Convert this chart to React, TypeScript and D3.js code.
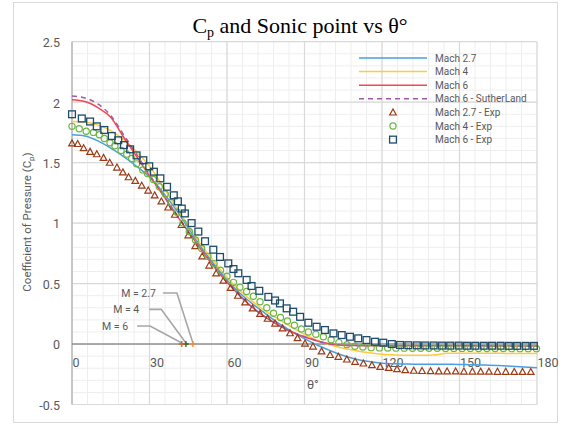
import React from "react";
import * as d3 from "d3";

// ---------- data ----------
const thetaModel = [0, 5, 10, 15, 20, 25, 30, 35, 40, 45, 50, 55, 60, 65, 70, 75, 80, 85, 90, 95, 100, 105, 110, 115, 120, 125, 130, 135, 140, 145, 150, 155, 160, 165, 170, 175, 180];
const cpMach27 = [1.73, 1.72, 1.68, 1.62, 1.55, 1.47, 1.38, 1.26, 1.12, 0.96, 0.8, 0.66, 0.53, 0.42, 0.33, 0.25, 0.17, 0.105, 0.045, -0.01, -0.055, -0.095, -0.125, -0.145, -0.158, -0.163, -0.166, -0.167, -0.168, -0.168, -0.169, -0.171, -0.174, -0.178, -0.184, -0.19, -0.197];
const cpMach4 = [1.84, 1.835, 1.81, 1.765, 1.69, 1.59, 1.47, 1.31, 1.14, 0.98, 0.82, 0.68, 0.55, 0.44, 0.35, 0.27, 0.205, 0.14, 0.08, 0.03, -0.008, -0.035, -0.055, -0.072, -0.085, -0.09, -0.092, -0.092, -0.091, -0.077, -0.077, -0.077, -0.077, -0.077, -0.078, -0.078, -0.078];
const cpMach6 = [2.02, 2.005, 1.955, 1.875, 1.71, 1.55, 1.39, 1.24, 1.08, 0.93, 0.78, 0.64, 0.51, 0.4, 0.3, 0.22, 0.155, 0.1, 0.06, 0.025, 0.0, -0.01, -0.013, -0.014, -0.014, -0.014, -0.014, -0.015, -0.015, -0.015, -0.015, -0.015, -0.015, -0.016, -0.016, -0.016, -0.016];
const cpMach6Suth = [2.05, 2.035, 1.985, 1.89, 1.73, 1.57, 1.4, 1.245, 1.085, 0.935, 0.785, 0.645, 0.515, 0.4, 0.3, 0.22, 0.155, 0.1, 0.06, 0.025, 0.0, -0.01, -0.013, -0.014, -0.014, -0.014, -0.014, -0.015, -0.015, -0.015, -0.015, -0.015, -0.015, -0.016, -0.016, -0.016, -0.016];

const thetaExp27 = [0, 2.2, 4.5, 7, 9.6, 12.2, 14.6, 17.4, 19.7, 21.9, 24.5, 27, 29.5, 32, 34.6, 37.2, 39.8, 42.4, 45, 47.7, 50.4, 53.1, 55.8, 58.6, 61.4, 64.2, 67, 69.9, 72.8, 75.7, 78.6, 81.5, 84.4, 87.3, 90.2, 93.3, 96.6, 99.9, 103.1, 106.4, 109.6, 112.8, 116.1, 119.3, 122.6, 125.8, 129, 132.3, 135.5, 138.8, 142, 145.2, 148.5, 151.7, 155, 158.2, 161.4, 164.7, 167.9, 171.2, 174.4, 177.6];
const cpExp27 = [1.66, 1.655, 1.62, 1.59, 1.57, 1.54, 1.5, 1.46, 1.42, 1.38, 1.35, 1.31, 1.27, 1.23, 1.18, 1.13, 1.07, 0.985, 0.9, 0.81, 0.725, 0.65, 0.585, 0.525, 0.465, 0.4, 0.345, 0.295, 0.25, 0.21, 0.17, 0.13, 0.09, 0.05, 0.005, -0.02, -0.06, -0.09, -0.105, -0.127, -0.146, -0.16, -0.174, -0.188, -0.196, -0.207, -0.215, -0.22, -0.222, -0.224, -0.225, -0.226, -0.226, -0.227, -0.227, -0.228, -0.228, -0.229, -0.229, -0.23, -0.23, -0.23];

const thetaExp4 = [0, 2.8, 5.5, 8.3, 10.6, 12.5, 14.7, 16.6, 19, 21.2, 23.1, 25, 27.4, 29.2, 31.5, 33.8, 36.1, 38.4, 40.7, 43, 45.4, 47.8, 50.2, 52.6, 55, 57.5, 60, 62.5, 65, 67.6, 70.2, 72.8, 75.4, 78, 80.7, 83.4, 86.1, 88.8, 91.5, 94.4, 97.3, 100.3, 103.3, 106.4, 109.5, 112.6, 115.8, 119, 122.2, 125.4, 128.6, 131.8, 135, 138.2, 141.4, 144.6, 147.8, 151, 154.2, 157.4, 160.6, 163.8, 167, 170.2, 173.4, 176.6, 179.8];
const cpExp4 = [1.8, 1.78, 1.76, 1.75, 1.73, 1.7, 1.665, 1.64, 1.6, 1.57, 1.535, 1.49, 1.44, 1.41, 1.36, 1.3, 1.24, 1.17, 1.09, 1.0, 0.93, 0.86, 0.79, 0.725, 0.665, 0.61, 0.56, 0.51, 0.47, 0.435, 0.395, 0.35, 0.3, 0.255, 0.22, 0.19, 0.155, 0.125, 0.1, 0.08, 0.06, 0.035, 0.012, -0.005, -0.018, -0.025, -0.03, -0.032, -0.033, -0.034, -0.034, -0.035, -0.035, -0.035, -0.035, -0.036, -0.036, -0.036, -0.036, -0.037, -0.037, -0.037, -0.037, -0.038, -0.038, -0.038, -0.038];

const thetaExp6 = [0, 3.8, 7, 9.6, 12.5, 15.4, 17.9, 20.1, 22.5, 25, 27.6, 29.9, 31.7, 34.2, 36.8, 39.4, 41, 42.5, 43.7, 46.3, 48.9, 51.5, 54.7, 57.3, 60.5, 62.5, 64.4, 67.6, 69.5, 72.5, 76, 78.6, 80.5, 83.1, 85.6, 88.3, 91.5, 94.7, 97.9, 101.2, 104.4, 107.6, 110.8, 114, 117.3, 120.5, 123.8, 127, 130.2, 133.5, 136.7, 140, 143.2, 146.4, 149.7, 152.9, 156.1, 159.4, 162.6, 165.9, 169.1, 172.3, 175.6, 178.8];
const cpExp6 = [1.9, 1.865, 1.84, 1.8, 1.77, 1.72, 1.685, 1.645, 1.61, 1.56, 1.52, 1.47, 1.425, 1.37, 1.3, 1.23, 1.18, 1.12, 1.08, 1.0, 0.93, 0.85, 0.78, 0.72, 0.667, 0.62, 0.585, 0.53, 0.48, 0.44, 0.39, 0.36, 0.336, 0.295, 0.267, 0.225, 0.176, 0.143, 0.116, 0.088, 0.074, 0.06, 0.047, 0.033, 0.019, 0.011, 0.0, -0.008, -0.01, -0.011, -0.012, -0.012, -0.013, -0.013, -0.013, -0.014, -0.014, -0.014, -0.014, -0.014, -0.015, -0.015, -0.015, -0.015];

const sonicLabels = ["M = 2.7", "M = 4", "M = 6"];
const sonicTheta = [46.8, 44.1, 42.5];
const sonicCp = [0, 0, 0];

const xTicks = [0, 30, 60, 90, 120, 150, 180];
const yTicks = [-0.5, 0, 0.5, 1, 1.5, 2, 2.5];

const legendLabels = ["Mach 2.7", "Mach 4", "Mach 6", "Mach 6 - SutherLand", "Mach 2.7 - Exp", "Mach 4 - Exp", "Mach 6 - Exp"];

// ---------- styles ----------
const C_BLUE = "#4A9FDC";
const C_YELLOW = "#FFCB3D";
const C_RED = "#F4474F";
const C_PURPLE = "#A05AA5";
const C_TRI = "#9A3B16";
const C_CIR = "#6DB543";
const C_SQ = "#1F4C68";
const TXT = "#595959";
const FONT = "Roboto, 'Noto Sans', sans-serif";

// label offsets (px) relative to each sonic marker: [textEndDx, dy, lineStartDx, elbowDx]
const sonicOffsets = [
  [-37, -51, -30, -16],
  [-46.7, -34.7, -36.7, -24.7],
  [-53.7, -18, -44.7, -31.7],
];
const sonicColors = ["#F08A3C", "#2F6B2F", "#D2691E"];

function Marker({ kind, cx, cy }: { kind: string; cx: number; cy: number }) {
  if (kind === "tri") {
    return (
      <path
        d={`M${cx},${cy - 3.4}L${cx + 3.3},${cy + 2.6}L${cx - 3.3},${cy + 2.6}Z`}
        fill="none"
        stroke={C_TRI}
        strokeWidth={1.2}
      />
    );
  }
  if (kind === "cir") {
    return <circle cx={cx} cy={cy} r={3.1} fill="none" stroke={C_CIR} strokeWidth={1.2} />;
  }
  return <rect x={cx - 3.4} y={cy - 3.4} width={6.8} height={6.8} fill="none" stroke={C_SQ} strokeWidth={1.3} />;
}

export default function App() {
  const x = d3.scaleLinear().domain([0, 180]).range([72, 537]);
  const y = d3.scaleLinear().domain([-0.5, 2.5]).range([404.5, 41.7]);

  const line = (vals: number[]) =>
    d3
      .line<number>()
      .x((_, i) => x(thetaModel[i]))
      .y((d) => y(d))
      .curve(d3.curveMonotoneX)(vals) as string;

  const minorX = d3.range(0, 181, 6);
  const minorY = d3.range(-5, 26, 1).map((v) => v / 10);

  const lines = [
    { vals: cpMach27, color: C_BLUE, dash: undefined },
    { vals: cpMach4, color: C_YELLOW, dash: undefined },
    { vals: cpMach6, color: C_RED, dash: undefined },
    { vals: cpMach6Suth, color: C_PURPLE, dash: "5,4" },
  ];

  const exps = [
    { th: thetaExp27, cp: cpExp27, kind: "tri" },
    { th: thetaExp4, cp: cpExp4, kind: "cir" },
    { th: thetaExp6, cp: cpExp6, kind: "sq" },
  ];

  const legendX0 = 359;
  const legendX1 = 427;
  const legendTextX = 435;
  const legendY0 = 58;
  const legendDy = 13.6;

  return (
    <svg
      width={571}
      height={425}
      style={{ position: "absolute", left: 0, top: 0, background: "#fff" }}
      fontFamily={FONT}
    >
      <rect x={0} y={0} width={571} height={425} fill="#fff" />
      <rect x={13.5} y={2.5} width={544} height={420} fill="#fff" stroke="#D9D9D9" strokeWidth={1} />

      {/* minor grid */}
      {minorX.map((t) => (
        <line key={"mx" + t} x1={x(t)} x2={x(t)} y1={y(2.5)} y2={y(-0.5)} stroke="#EEEEEE" strokeWidth={1} />
      ))}
      {minorY.map((v) => (
        <line key={"my" + v} x1={x(0)} x2={x(180)} y1={y(v)} y2={y(v)} stroke="#EEEEEE" strokeWidth={1} />
      ))}
      {/* major grid */}
      {xTicks.map((t) => (
        <line key={"Mx" + t} x1={x(t)} x2={x(t)} y1={y(2.5)} y2={y(-0.5)} stroke="#D9D9D9" strokeWidth={1.2} />
      ))}
      {yTicks.map((v) => (
        <line key={"My" + v} x1={x(0)} x2={x(180)} y1={y(v)} y2={y(v)} stroke="#D9D9D9" strokeWidth={1.2} />
      ))}

      {/* axes */}
      <line x1={x(0)} x2={x(0)} y1={y(2.5)} y2={y(-0.5)} stroke="#A6A6A6" strokeWidth={1} />
      <line x1={x(0)} x2={x(180)} y1={y(0)} y2={y(0)} stroke="#6E6E6E" strokeWidth={1.1} />

      {/* y tick labels */}
      {yTicks.map((v) => (
        <text key={"yl" + v} x={60} y={y(v) + 1} dy="0.35em" textAnchor="end" fontSize={12.5} fill={TXT}>
          {v}
        </text>
      ))}
      {/* x tick labels */}
      {xTicks.map((t) => (
        <text key={"xl" + t} x={x(t) + 0.5} y={367} textAnchor="start" fontSize={12.5} fill={TXT}>
          {t}
        </text>
      ))}

      {/* axis titles */}
      <text x={x(90) + 2.5} y={389} fontSize={12.5} fill={TXT}>
        θ°
      </text>
      <text transform="translate(31,222) rotate(-90)" textAnchor="middle" fontSize={11.5} fill={TXT}>
        Coefficient of Pressure (C
        <tspan fontSize={8} dy={3}>
          p
        </tspan>
        <tspan dy={-3}>)</tspan>
      </text>

      {/* title */}
      <text x={300} y={33} textAnchor="middle" fontFamily="'Liberation Serif', 'Times New Roman', serif" fontSize={22} fill="#000">
        C
        <tspan fontSize={14} dy={4}>
          p
        </tspan>
        <tspan dy={-4}> and Sonic point vs θ°</tspan>
      </text>

      {/* model lines */}
      {lines.map((l, i) => (
        <path key={"l" + i} d={line(l.vals)} fill="none" stroke={l.color} strokeWidth={1.5} strokeDasharray={l.dash} />
      ))}

      {/* experimental markers */}
      {exps.map((e) =>
        e.th.map((t, i) => <Marker key={e.kind + i} kind={e.kind} cx={x(t)} cy={y(e.cp[i])} />)
      )}

      {/* sonic points with leader lines */}
      {sonicTheta.map((t, i) => {
        const mx = x(t);
        const my = y(sonicCp[i]);
        const [tdx, dy, ldx, edx] = sonicOffsets[i];
        return (
          <g key={"s" + i}>
            <polyline
              points={`${mx + ldx},${my + dy} ${mx + edx},${my + dy} ${mx},${my - 1}`}
              fill="none"
              stroke="#A6A6A6"
              strokeWidth={1.6}
            />
            <text x={mx + tdx} y={my + dy} dy="0.35em" textAnchor="end" fontSize={10.5} fill={TXT}>
              {sonicLabels[i]}
            </text>
          </g>
        );
      })}
      {sonicTheta.map((t, i) => {
        const mx = x(t);
        const my = y(sonicCp[i]);
        return (
          <path
            key={"sm" + i}
            d={`M${mx - 3},${my}H${mx + 3}M${mx},${my - 3}V${my + 3}`}
            stroke={sonicColors[i]}
            strokeWidth={1.4}
          />
        );
      })}

      {/* legend */}
      {legendLabels.map((lab, i) => {
        const ly = legendY0 + i * legendDy;
        let sym: React.ReactNode = null;
        if (i < 4) {
          sym = (
            <line
              x1={legendX0}
              x2={legendX1}
              y1={ly}
              y2={ly}
              stroke={lines[i].color}
              strokeWidth={1.5}
              strokeDasharray={lines[i].dash}
            />
          );
        } else {
          sym = <Marker kind={exps[i - 4].kind} cx={(legendX0 + legendX1) / 2} cy={ly} />;
        }
        return (
          <g key={"lg" + i}>
            {sym}
            <text x={legendTextX} y={ly} dy="0.35em" fontSize={10} fill={TXT}>
              {lab}
            </text>
          </g>
        );
      })}
    </svg>
  );
}
